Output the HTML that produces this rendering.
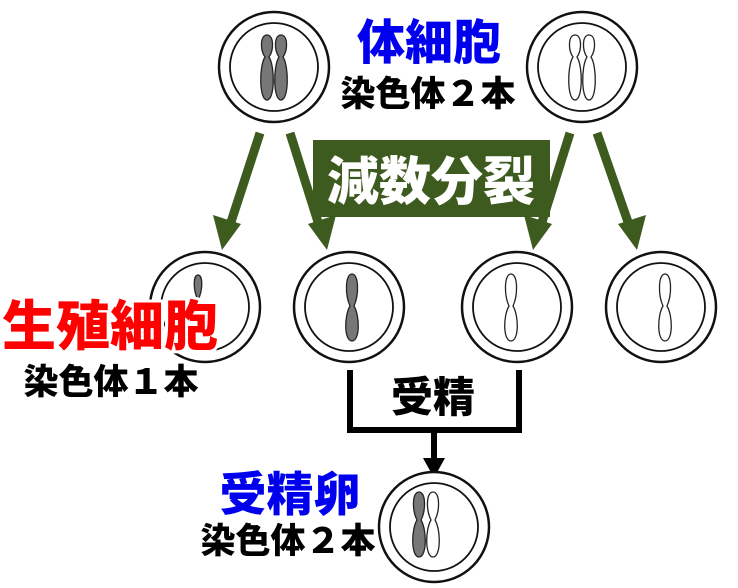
<!DOCTYPE html>
<html><head><meta charset="utf-8"><style>
html,body{margin:0;padding:0;background:#fff;}
svg{display:block}
text{font-family:"Liberation Sans","Noto Sans CJK JP",sans-serif;font-weight:900;}
</style></head><body>
<svg width="738" height="588" viewBox="0 0 738 588" xmlns="http://www.w3.org/2000/svg">
<defs>
<g id="cell">
<circle r="55" fill="#fff" stroke="#111" stroke-width="2.5"/>
<circle r="44" fill="none" stroke="#111" stroke-width="1.8"/>
</g>
</defs>
<use href="#cell" x="274" y="67"/>
<use href="#cell" x="582" y="67"/>
<g stroke="#222" stroke-width="1.3">
<path d="M267 35 C274 35 274 50 269 57 C275 66 275 100 267 100 C259 100 259 66 265 57 C260 50 260 35 267 35Z" fill="#777"/>
<path d="M281 35 C288 35 288 50 283 57 C289 66 289 100 281 100 C273 100 273 66 279 57 C274 50 274 35 281 35Z" fill="#777"/>
<path d="M575 35 C582 35 582 50 577 57 C583 66 583 100 575 100 C567 100 567 66 573 57 C568 50 568 35 575 35Z" fill="#fff"/>
<path d="M589 35 C596 35 596 50 591 57 C597 66 597 100 589 100 C581 100 581 66 587 57 C582 50 582 35 589 35Z" fill="#fff"/>
</g>
<text x="429" y="59" font-size="48" fill="#0000ee" text-anchor="middle">体細胞</text>
<text x="428" y="106" font-size="35" fill="#000" text-anchor="middle">染色体２本</text>
<rect x="313" y="140" width="237" height="77" fill="#3d5a1f"/>
<text x="431" y="200" font-size="52" fill="#fff" text-anchor="middle">減数分裂</text>
<g stroke="#3d5a1f" stroke-width="9" fill="#3d5a1f">
<line x1="260" y1="133" x2="231" y2="222"/>
<line x1="290" y1="133" x2="318" y2="222"/>
<line x1="570" y1="133" x2="542" y2="222"/>
<line x1="597" y1="133" x2="628" y2="222"/>
</g>
<g fill="#3d5a1f">
<polygon points="222,250 213,215 241,224"/>
<polygon points="327,250 308,224 336,215"/>
<polygon points="533,250 524,215 552,224"/>
<polygon points="637,250 618,224 646,215"/>
</g>
<use href="#cell" x="205" y="307"/>
<use href="#cell" x="349" y="307"/>
<use href="#cell" x="517" y="307"/>
<use href="#cell" x="661" y="307"/>
<g stroke="#222" stroke-width="1.3">
<path d="M198 275 C203 275 203 290 198 300 C193 290 193 275 198 275Z" fill="#777"/>
<path d="M352 274 C359 274 359 295 354 306 C360 316 360 341 352 341 C344 341 344 316 350 306 C345 295 345 274 352 274Z" fill="#777"/>
<path d="M511 274 C518 274 518 295 513 306 C519 316 519 341 511 341 C503 341 503 316 509 306 C504 295 504 274 511 274Z" fill="#fff"/>
<path d="M665 274 C672 274 672 295 667 306 C673 316 673 341 665 341 C657 341 657 316 663 306 C658 295 658 274 665 274Z" fill="#fff"/>
</g>
<text x="110" y="345" font-size="54" fill="#ff0000" text-anchor="middle" stroke="#fff" stroke-width="6" paint-order="stroke">生殖細胞</text>
<text x="111" y="394" font-size="35" fill="#000" text-anchor="middle">染色体１本</text>
<path d="M350 370 V430 H519 V370" fill="none" stroke="#000" stroke-width="6"/>
<line x1="434" y1="430" x2="434" y2="462" stroke="#000" stroke-width="6"/>
<polygon points="423,458 445,458 434,478" fill="#000"/>
<text x="433" y="412" font-size="42" fill="#000" text-anchor="middle">受精</text>
<use href="#cell" x="434" y="527"/>
<g stroke="#222" stroke-width="1.3">
<path d="M419 492 C426 492 426 510 421 520 C427 530 427 557 419 557 C411 557 411 530 417 520 C412 510 412 492 419 492Z" fill="#777"/>
<path d="M433 492 C440 492 440 510 435 520 C441 530 441 557 433 557 C425 557 425 530 431 520 C426 510 426 492 433 492Z" fill="#fff"/>
</g>
<text x="290" y="511" font-size="47" fill="#0000ee" text-anchor="middle">受精卵</text>
<text x="288" y="553" font-size="35" fill="#000" text-anchor="middle" stroke="#fff" stroke-width="4" paint-order="stroke">染色体２本</text>
</svg>
</body></html>
